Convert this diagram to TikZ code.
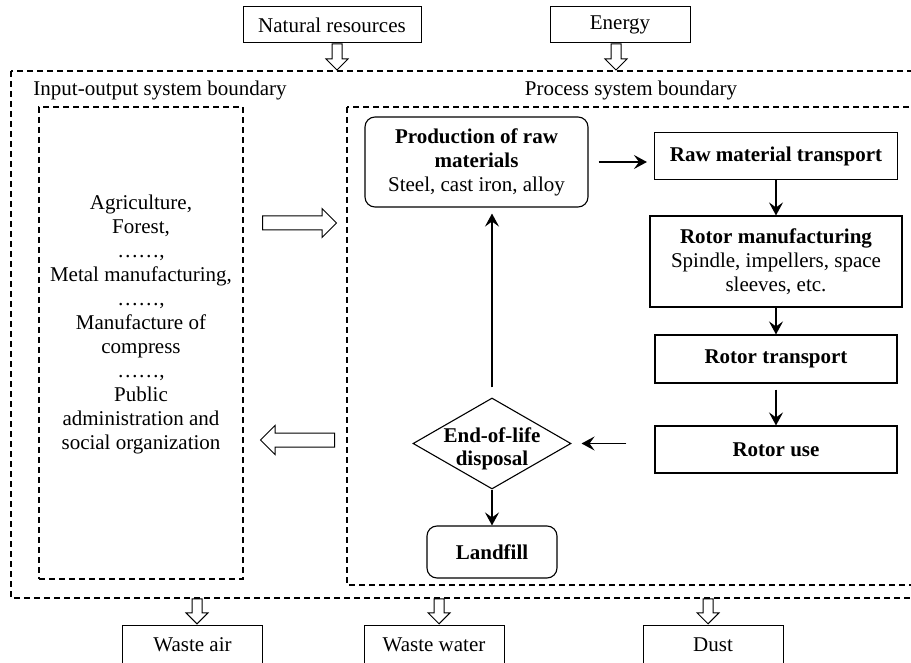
\documentclass[tikz,border=0pt]{standalone}
\usepackage{fontspec}
\setmainfont{Liberation Serif}
\usepackage{tikz}
\usetikzlibrary{arrows.meta,positioning,calc,shapes.geometric,shapes.arrows}

\begin{document}
\begin{tikzpicture}[
  x=1pt,y=-1pt,
  font=\fontsize{21}{24}\selectfont,
  box/.style={draw,line width=1.1pt,align=center,minimum width=242pt,minimum height=47pt,inner sep=2pt},
  rbox/.style={box,rounded corners=10pt},
  ext/.style={draw,line width=1pt,minimum width=140pt,minimum height=36pt},
  bound/.style={draw,line width=1.1pt,dash pattern=on 6pt off 4pt},
  arr/.style={-{Stealth[length=13pt,width=14pt,inset=5pt]},line width=1.7pt},
  vflow/.style={single arrow,draw,line width=1pt,inner xsep=0pt,inner ysep=4.5pt,minimum height=26pt,single arrow head extend=6pt,rotate=-90},
  hflow/.style={single arrow,draw,line width=1pt,inner xsep=0pt,inner ysep=6.5pt,minimum height=74pt,single arrow head extend=7.5pt}
]
\useasboundingbox (0,0) rectangle (911,663);
\clip (0,0) rectangle (911,663);

\draw[bound] (11,71) rectangle (960,598);
\draw[bound] (347,107) rectangle (960,585);
\node (iolabel) at (160,90) {Input-output system boundary};
\node (pslabel) at (631,90) {Process system boundary};

\node[ext,minimum width=178pt] (nat) at (332,25) {Natural resources};
\node[ext] (energy) at (620,25) {Energy};
\node[ext,minimum height=40pt] (air) at (192.5,645) {Waste air};
\node[ext,minimum height=40pt] (water) at (434,645) {Waste water};
\node[ext,minimum height=40pt] (dust) at (713,645) {Dust};

\node[vflow,anchor=tail] (natin) at ([xshift=5pt]nat.south) {};
\node[vflow,anchor=tail] (energyin) at ([xshift=-4pt]energy.south) {};
\node[vflow,anchor=tip,minimum height=25pt] (airout) at ([xshift=4.5pt]air.north) {};
\node[vflow,anchor=tip,minimum height=25pt] (waterout) at ([xshift=5pt]water.north) {};
\node[vflow,anchor=tip,minimum height=25pt] (dustout) at ([xshift=-5pt]dust.north) {};

\node[bound,minimum width=204pt,minimum height=472pt] (sectors) at (141,343) {};
\node[align=center] (sectorlist) at (141,324) {Agriculture,\\Forest,\\……,\\Metal manufacturing,\\……,\\Manufacture of\\compress\\……,\\Public\\administration and\\social organization};
\node[hflow,anchor=tail] (toprocess) at (262,223) {};
\node[hflow,anchor=tail,rotate=180] (tosectors) at (335,440) {};

\node[rbox,minimum width=223pt,minimum height=90pt] (prod) at (476.5,162) {\textbf{Production of raw}\\\textbf{materials}\\Steel, cast iron, alloy};
\node[box,minimum width=243pt] (rmt) at (776,156) {\textbf{Raw material transport}};
\node[box,minimum width=252pt,minimum height=91pt] (manuf) at (776,261.5) {\textbf{Rotor manufacturing}\\Spindle, impellers, space\\sleeves, etc.};
\node[box,minimum height=48pt] (rtrans) at (776,359) {\textbf{Rotor transport}};
\node[box] (ruse) at (776,449.5) {\textbf{Rotor use}};
\node[diamond,draw,line width=1.1pt,minimum width=158pt,minimum height=91pt,inner sep=0pt] (eol) at (492,443.5) {};
\node[align=center,font=\fontsize{21}{23}\selectfont\bfseries] (eoltext) at ([yshift=-5pt]eol.center) {End-of-life\\disposal};
\node[rbox,minimum width=130pt,minimum height=52pt] (landfill) at (492,552) {\textbf{Landfill}};

\draw[arr,shorten <=10pt,shorten >=7pt] (prod.east) -- (prod.east -| rmt.west);
\draw[arr] (rmt) -- (manuf);
\draw[arr] (manuf) -- (rtrans);
\draw[arr,shorten <=6pt] (rtrans) -- (ruse);
\draw[arr,shorten <=28pt,shorten >=10pt] (eol.east -| ruse.west) -- (eol.east);
\draw[arr,shorten <=10pt,shorten >=6pt] (eol.north) -- (eol.north |- prod.south);
\draw[arr] (eol) -- (landfill);
\end{tikzpicture}
\end{document}
